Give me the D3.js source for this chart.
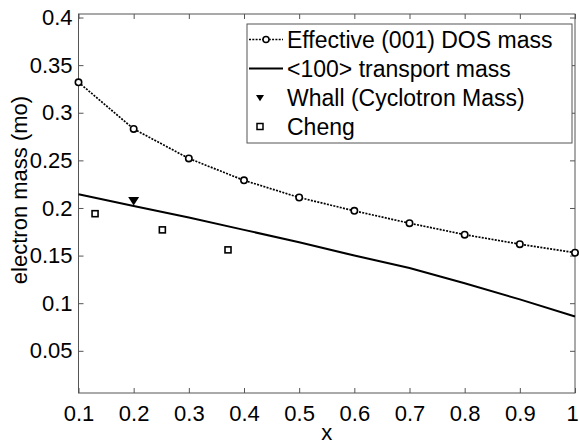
<!DOCTYPE html>
<html>
<head>
<meta charset="utf-8">
<script src="https://cdn.jsdelivr.net/npm/d3@7"></script>
<style>
  html, body { margin: 0; padding: 0; background: #fff; }
  svg { display: block; }
  text { font-family: "Liberation Sans", Arial, Helvetica, sans-serif; fill: #000; }
</style>
</head>
<body>
<svg id="chart" width="579" height="444"></svg>
<script>
// Germanium content x
const xValues = [0.1, 0.2, 0.3, 0.4, 0.5, 0.6, 0.7, 0.8, 0.9, 1.0];
// Effective (001) density-of-states mass
const dosMass = [0.332, 0.283, 0.252, 0.229, 0.211, 0.197, 0.184, 0.172, 0.162, 0.153];
// <100> transport mass
const transportMass = [0.2145, 0.202, 0.190, 0.177, 0.164, 0.150, 0.137, 0.121, 0.104, 0.086];
// Whall cyclotron mass measurement
const whallX = [0.2];
const whallMass = [0.208];
// Cheng measurements
const chengX = [0.13, 0.252, 0.371];
const chengMass = [0.194, 0.177, 0.156];

const xTicks = [0.1, 0.2, 0.3, 0.4, 0.5, 0.6, 0.7, 0.8, 0.9, 1];
const yTicks = [0.05, 0.1, 0.15, 0.2, 0.25, 0.3, 0.35, 0.4];
const seriesNames = ["Effective (001) DOS mass", "<100> transport mass", "Whall (Cyclotron Mass)", "Cheng"];

const svg = d3.select("#chart");
const plotLeft = 78.5, plotRight = 575, plotTop = 14, plotBottom = 393;

const x = d3.scaleLinear().domain([0.1, 1]).range([plotLeft, plotRight]);
const y = d3.scaleLinear().domain([0.0057, 0.4037]).range([plotBottom, plotTop]);

const axisColor = "#555";

// plot frame
svg.append("rect")
  .attr("x", plotLeft).attr("y", plotTop)
  .attr("width", plotRight - plotLeft).attr("height", plotBottom - plotTop)
  .attr("fill", "none").attr("stroke", axisColor).attr("stroke-width", 1);

const fmt = d => String(d);

// bottom & left axes with inward ticks
const xAxis = svg.append("g").attr("transform", `translate(0,${plotBottom})`)
  .call(d3.axisBottom(x).tickValues(xTicks).tickFormat(fmt).tickSizeInner(-5).tickSizeOuter(0).tickPadding(12));
const yAxis = svg.append("g").attr("transform", `translate(${plotLeft},0)`)
  .call(d3.axisLeft(y).tickValues(yTicks).tickFormat(fmt).tickSizeInner(-5).tickSizeOuter(0).tickPadding(6));
// mirrored ticks on top & right
const xTop = svg.append("g").attr("transform", `translate(0,${plotTop})`)
  .call(d3.axisTop(x).tickValues(xTicks).tickFormat("").tickSizeInner(-5).tickSizeOuter(0));
const yRight = svg.append("g").attr("transform", `translate(${plotRight},0)`)
  .call(d3.axisRight(y).tickValues(yTicks).tickFormat("").tickSizeInner(-5).tickSizeOuter(0));

[xAxis, yAxis, xTop, yRight].forEach(g => {
  g.select(".domain").remove();
  g.selectAll(".tick line").attr("stroke", axisColor);
  g.selectAll(".tick text").attr("font-size", 22).attr("font-family", "Liberation Sans, Arial, sans-serif").attr("fill", "#000");
});
// keep the last x label inside the page edge
xAxis.selectAll(".tick text").filter(d => d === 1).attr("dx", -3);

// axis titles
svg.append("text")
  .attr("x", (plotLeft + plotRight) / 2).attr("y", 440)
  .attr("text-anchor", "middle").attr("font-size", 22).text("x");
svg.append("text")
  .attr("transform", `translate(27,190) rotate(-90)`)
  .attr("text-anchor", "middle").attr("font-size", 22).text("electron mass (mo)");

const plot = svg.append("g");

// <100> transport mass: solid line
const transportData = xValues.map((v, i) => [v, transportMass[i]]);
plot.append("path")
  .datum(transportData)
  .attr("fill", "none").attr("stroke", "#000").attr("stroke-width", 2)
  .attr("d", d3.line().x(d => x(d[0])).y(d => y(d[1])));

// DOS mass: dotted line with circle markers
const dosData = xValues.map((v, i) => [v, dosMass[i]]);
plot.append("path")
  .datum(dosData)
  .attr("fill", "none").attr("stroke", "#000").attr("stroke-width", 1.7)
  .attr("stroke-dasharray", "2,1.3")
  .attr("d", d3.line().x(d => x(d[0])).y(d => y(d[1])));
plot.selectAll("circle.dos")
  .data(dosData).join("circle")
  .attr("class", "dos")
  .attr("cx", d => x(d[0])).attr("cy", d => y(d[1])).attr("r", 3.2)
  .attr("fill", "#fff").attr("stroke", "#000").attr("stroke-width", 1.6);

// Whall: filled downward triangles
const triDown = (cx, cy, s) => `M${cx - s},${cy - s * 0.6}L${cx + s},${cy - s * 0.6}L${cx},${cy + s * 0.95}Z`;
plot.selectAll("path.whall")
  .data(whallX.map((v, i) => [v, whallMass[i]])).join("path")
  .attr("class", "whall")
  .attr("d", d => triDown(x(d[0]), y(d[1]), 5.5))
  .attr("fill", "#000");

// Cheng: open squares
plot.selectAll("rect.cheng")
  .data(chengX.map((v, i) => [v, chengMass[i]])).join("rect")
  .attr("class", "cheng")
  .attr("x", d => x(d[0]) - 3).attr("y", d => y(d[1]) - 3)
  .attr("width", 6).attr("height", 6)
  .attr("fill", "#fff").attr("stroke", "#000").attr("stroke-width", 1.6);

// legend
const lg = svg.append("g");
lg.append("rect")
  .attr("x", 247).attr("y", 24).attr("width", 325).attr("height", 119)
  .attr("fill", "#fff").attr("stroke", axisColor).attr("stroke-width", 1);

const rowY = i => 39.5 + i * 29;
const textX = 287;
seriesNames.forEach((name, i) => {
  lg.append("text")
    .attr("x", textX).attr("y", rowY(i)).attr("dy", "0.36em")
    .attr("font-size", 23).text(name);
});
// legend samples
lg.append("line")
  .attr("x1", 249).attr("x2", 283).attr("y1", rowY(0)).attr("y2", rowY(0))
  .attr("stroke", "#000").attr("stroke-width", 1.6).attr("stroke-dasharray", "2,1.3");
lg.append("circle")
  .attr("cx", 266).attr("cy", rowY(0)).attr("r", 3)
  .attr("fill", "#fff").attr("stroke", "#000").attr("stroke-width", 1.5);
lg.append("line")
  .attr("x1", 249).attr("x2", 283).attr("y1", rowY(1)).attr("y2", rowY(1))
  .attr("stroke", "#000").attr("stroke-width", 2);
lg.append("path")
  .attr("d", triDown(260, rowY(2), 4))
  .attr("fill", "#000");
lg.append("rect")
  .attr("x", 257).attr("y", rowY(3) - 3).attr("width", 6).attr("height", 6)
  .attr("fill", "#fff").attr("stroke", "#000").attr("stroke-width", 1.5);
</script>
</body>
</html>
